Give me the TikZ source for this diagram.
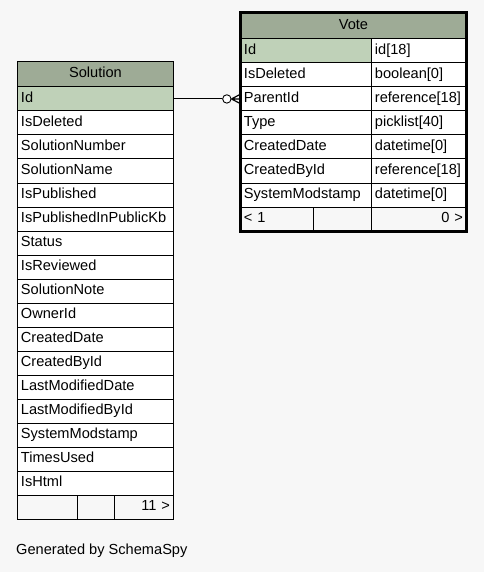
\documentclass[tikz,border=0pt]{standalone}
\usepackage{fontspec}
\setmainfont{Liberation Sans}
\usetikzlibrary{positioning}
\definecolor{headgreen}{RGB}{158,171,150}
\definecolor{keygreen}{RGB}{191,209,184}
\definecolor{bggray}{RGB}{247,247,247}

\begin{document}
\begin{tikzpicture}[x=1pt,y=-1pt,
        font=\fontsize{14.6}{16}\selectfont,
        cell/.style={draw,line width=0.9pt,anchor=north west,minimum height=24pt,
            text height=10.6pt,text depth=3.2pt,
            inner xsep=3.5pt,inner ysep=0pt,align=left},
        head cell/.style={cell,fill=headgreen,align=center,minimum height=25.5pt},
        key cell/.style={cell,fill=keygreen},
        body cell/.style={cell,fill=white},
        foot cell/.style={cell,fill=bggray}]

        % Canvas
        \fill[bggray] (0,0) rectangle (484,572);
        \useasboundingbox (0,0) rectangle (484,572);

        % Solution table
        \node[head cell,text width=149pt] (sol) at (17,61) {Solution};
        \foreach \f [count=\i] in {Id,IsDeleted,SolutionNumber,SolutionName,IsPublished,
                IsPublishedInPublicKb,Status,IsReviewed,SolutionNote,OwnerId,CreatedDate,
                CreatedById,LastModifiedDate,LastModifiedById,SystemModstamp,TimesUsed,IsHtml}
            \node[body cell,text width=149pt] (sol-\i) at (17,{86.5+24*(\i-1)}) {\f};
        \node[key cell,text width=149pt] at (sol-1.north west) {Id};
        \node[foot cell,text width=53pt] (sol-f1) at (17,494.5) {};
        \node[foot cell,text width=30pt] (sol-f2) at (77,494.5) {};
        \node[foot cell,text width=52pt,align=right] (sol-f3) at (114,494.5) {11 >};

        % Vote table
        \node[head cell,text width=219pt] (vote) at (240,12.5) {Vote};
        \foreach \f/\t [count=\i] in {Id/id[18],IsDeleted/boolean[0],ParentId/reference[18],
                Type/picklist[40],CreatedDate/datetime[0],CreatedById/reference[18],
                SystemModstamp/datetime[0]}
        {
            \node[body cell,text width=124pt] (vote-\i) at (240,{38.5+24*(\i-1)}) {\f};
            \node[body cell,text width=88pt] (type-\i) at (371,{38.5+24*(\i-1)}) {\t};
        }
        \node[key cell,text width=124pt] at (vote-1.north west) {Id};
        \node[foot cell,text width=66pt] (vote-f1) at (240,206.5) {< 1};
        \node[foot cell,text width=51pt] (vote-f2) at (313,206.5) {};
        \node[foot cell,text width=88pt,align=right] (vote-f3) at (371,206.5) {0 >};
        \draw[line width=3pt] (vote.north west) rectangle (vote-f3.south east);

        % Relationship
        \coordinate[left=8.5pt of vote-3.west] (foot);
        \node[circle,draw,line width=0.9pt,fill=white,inner sep=0pt,minimum size=8.4pt,
            left=0pt of foot] (ring) {};
        \draw[line width=0.9pt] (sol-1.east) -- (ring);
        \draw[line width=1.2pt] (foot) -- ([yshift=4.5pt]vote-3.west)
            (foot) -- (vote-3.west)
            (foot) -- ([yshift=-4.5pt]vote-3.west);

        % Footer text
        \node[anchor=west,inner sep=0pt] (gen) at (16,551) {Generated by SchemaSpy};

\end{tikzpicture}
\end{document}
